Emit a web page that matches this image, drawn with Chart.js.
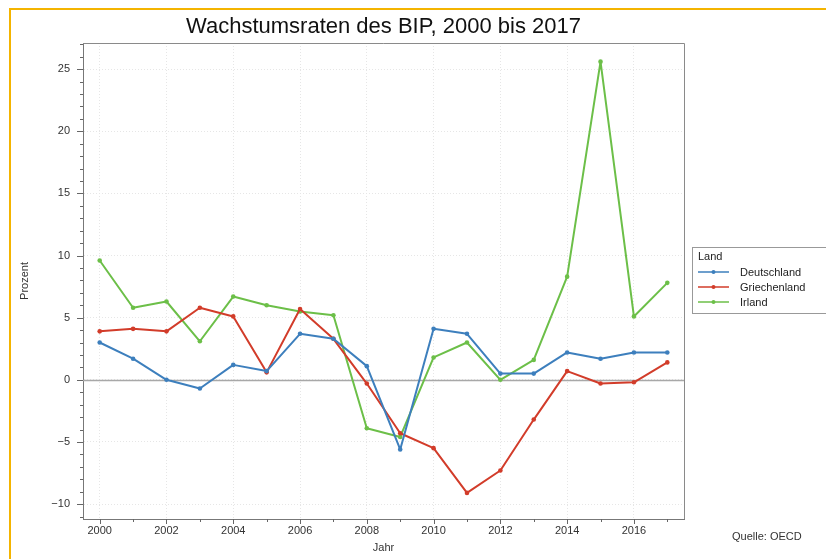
<!DOCTYPE html>
<html>
<head>
<meta charset="utf-8">
<script src="https://cdn.jsdelivr.net/npm/chart.js@4/dist/chart.umd.min.js"></script>
<style>
  body { margin: 0; background: #fff; }
  #rahmen { position: absolute; left: 9px; top: 8px; width: 900px; height: 700px;
            border-top: 2px solid #f4b400; border-left: 2px solid #f4b400; }
  #chart { position: absolute; left: 0; top: 0; }
</style>
</head>
<body>
<div id="rahmen"></div>
<canvas id="chart" width="826" height="559"></canvas>
<script>
// Jahre und Wachstumsraten (Prozent)
const jahre = [2000, 2001, 2002, 2003, 2004, 2005, 2006, 2007, 2008,
               2009, 2010, 2011, 2012, 2013, 2014, 2015, 2016, 2017];
const deutschland = [3.0, 1.7, 0.0, -0.7, 1.2, 0.7, 3.7, 3.3, 1.1,
                     -5.6, 4.1, 3.7, 0.5, 0.5, 2.2, 1.7, 2.2, 2.2];
const griechenland = [3.9, 4.1, 3.9, 5.8, 5.1, 0.6, 5.7, 3.3, -0.3,
                      -4.3, -5.5, -9.1, -7.3, -3.2, 0.7, -0.3, -0.2, 1.4];
const irland = [9.6, 5.8, 6.3, 3.1, 6.7, 6.0, 5.5, 5.2, -3.9,
                -4.6, 1.8, 3.0, 0.0, 1.6, 8.3, 25.6, 5.1, 7.8];

const xTicks = [2000, 2002, 2004, 2006, 2008, 2010, 2012, 2014, 2016];
const yTicks = [-10, -5, 0, 5, 10, 15, 20, 25];

const laender = ['Deutschland', 'Griechenland', 'Irland'];
const farben = ['#3d7fbd', '#d23c2a', '#6cbf48'];

const schrift = '"Liberation Sans", Arial, sans-serif';

function punkte(werte) {
    return jahre.map((j, i) => ({ x: j, y: werte[i] }));
}

const datasets = [deutschland, griechenland, irland].map((werte, i) => ({
    label: laender[i],
    data: punkte(werte),
    borderColor: farben[i],
    backgroundColor: farben[i],
    borderWidth: 2,
    borderJoinStyle: 'round',
    pointRadius: 2.3,
    pointBorderWidth: 0,
    tension: 0
}));

// Titel, Rahmen, kleine Striche, Nulllinie, Legende und Quelle
const extras = {
    id: 'extras',
    beforeDatasetsDraw(chart) {
        const { ctx, chartArea: a, scales: { y } } = chart;
        const y0 = Math.round(y.getPixelForValue(0)) + 0.5;
        ctx.save();
        ctx.strokeStyle = '#a8a8a8';
        ctx.lineWidth = 1.5;
        ctx.beginPath();
        ctx.moveTo(a.left, y0);
        ctx.lineTo(a.right, y0);
        ctx.stroke();
        ctx.restore();
    },
    afterDraw(chart) {
        const { ctx, chartArea: a, scales: { x, y } } = chart;
        ctx.save();
        // Rahmen oben/rechts
        ctx.strokeStyle = '#8a8a8a';
        ctx.lineWidth = 1;
        ctx.beginPath();
        ctx.moveTo(a.left, a.top + 0.5);
        ctx.lineTo(a.right + 0.5, a.top + 0.5);
        ctx.lineTo(a.right + 0.5, a.bottom);
        ctx.stroke();

        // Striche an den Achsen
        ctx.strokeStyle = '#666';
        ctx.beginPath();
        for (let v = Math.ceil(y.min); v <= y.max; v++) {
            const len = v % 5 === 0 ? 6 : 3;
            const py = Math.round(y.getPixelForValue(v)) + 0.5;
            ctx.moveTo(a.left - len, py);
            ctx.lineTo(a.left, py);
        }
        for (let v = Math.ceil(x.min); v <= x.max; v++) {
            const len = v % 2 === 0 ? 5 : 3;
            const px = Math.round(x.getPixelForValue(v)) + 0.5;
            ctx.moveTo(px, a.bottom);
            ctx.lineTo(px, a.bottom + len);
        }
        ctx.stroke();

        // Titel
        ctx.fillStyle = '#111';
        ctx.font = '22px ' + schrift;
        ctx.textAlign = 'center';
        ctx.textBaseline = 'middle';
        ctx.fillText('Wachstumsraten des BIP, 2000 bis 2017', (a.left + a.right) / 2, 27);

        // Legende
        ctx.fillStyle = '#fff';
        ctx.fillRect(692, 247, 200, 66);
        ctx.strokeStyle = '#999';
        ctx.strokeRect(692.5, 247.5, 200, 66);
        ctx.font = '11px ' + schrift;
        ctx.textAlign = 'left';
        ctx.fillStyle = '#222';
        ctx.fillText('Land', 698, 257);
        chart.data.datasets.forEach((ds, i) => {
            const ly = 272 + i * 15;
            ctx.strokeStyle = ds.borderColor;
            ctx.lineWidth = 1.5;
            ctx.beginPath();
            ctx.moveTo(698, ly);
            ctx.lineTo(729, ly);
            ctx.stroke();
            ctx.fillStyle = ds.borderColor;
            ctx.beginPath();
            ctx.arc(713.5, ly, 2, 0, Math.PI * 2);
            ctx.fill();
            ctx.fillStyle = '#222';
            ctx.fillText(ds.label, 740, ly + 0.5);
        });

        // Quelle
        ctx.fillStyle = '#333';
        ctx.fillText('Quelle: OECD', 732, 537);
        ctx.restore();
    }
};

const ctx = document.getElementById('chart').getContext('2d');

new Chart(ctx, {
    type: 'line',
    data: { datasets: datasets },
    plugins: [extras],
    options: {
        responsive: false,
        animation: false,
        layout: { padding: { left: 0, right: 142, top: 43, bottom: 0 } },
        plugins: {
            legend: { display: false },
            title: { display: false },
            tooltip: { enabled: false }
        },
        scales: {
            x: {
                type: 'linear',
                min: 1999.5,
                max: 2017.5,
                afterBuildTicks: s => { s.ticks = xTicks.map(v => ({ value: v })); },
                afterFit: s => { s.height = 40; },
                grid: { color: '#e6e6e6', drawTicks: false },
                border: { color: '#777', dash: [1, 2] },
                ticks: {
                    padding: 5,
                    color: '#333',
                    font: { family: schrift, size: 11 },
                    callback: v => String(v),
                    maxRotation: 0
                },
                title: {
                    display: true,
                    text: 'Jahr',
                    color: '#333',
                    font: { family: schrift, size: 11 },
                    padding: { top: 4, bottom: 4 }
                }
            },
            y: {
                min: -11.2,
                max: 27.1,
                afterBuildTicks: s => { s.ticks = yTicks.map(v => ({ value: v })); },
                afterFit: s => { s.width = 83; },
                grid: { color: '#e6e6e6', drawTicks: false },
                border: { color: '#777', dash: [1, 2] },
                ticks: {
                    padding: 13,
                    color: '#333',
                    font: { family: schrift, size: 11 },
                    callback: v => (v < 0 ? '\u2212' + Math.abs(v) : String(v))
                },
                title: {
                    display: true,
                    text: 'Prozent',
                    color: '#333',
                    font: { family: schrift, size: 11 },
                    padding: { top: 18, bottom: 4 }
                }
            }
        }
    }
});
</script>
</body>
</html>
